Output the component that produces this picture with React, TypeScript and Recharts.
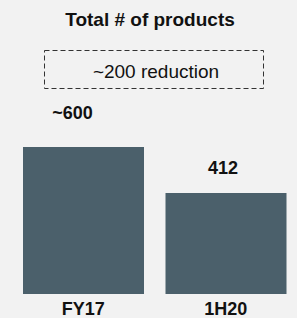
import React from 'react';
import { BarChart, Bar, XAxis, YAxis, LabelList } from 'recharts';

const categories = ['FY17', '1H20'];
const productCounts = [600, 412];
const countLabels = ['~600', '412'];
const chartTitle = 'Total # of products';
const reductionNote = '~200 reduction';

const data = categories.map((period, i) => ({
  period,
  count: productCounts[i],
  label: countLabels[i],
}));

const FONT = '"Liberation Sans", Arial, Helvetica, sans-serif';
const BAR_COLOR = '#4b606b';

// the first label sits a little higher and left of its bar in the original
const labelShift = [
  { dx: -11, dy: -28 },
  { dx: -3, dy: -19 },
];

const ValueLabel = (props: any) => {
  const { x, y, width, index } = props;
  const shift = labelShift[index] || { dx: 0, dy: -10 };
  return (
    <text
      x={Number(x) + Number(width) / 2 + shift.dx}
      y={Number(y) + shift.dy}
      textAnchor="middle"
      fontFamily={FONT}
      fontSize={18}
      fontWeight="bold"
      fill="#111"
    >
      {countLabels[index]}
    </text>
  );
};

const PeriodTick = (props: any) => {
  const { x, y, payload } = props;
  return (
    <text
      x={x}
      y={y}
      dy={13}
      textAnchor="middle"
      fontFamily={FONT}
      fontSize={18}
      fontWeight="bold"
      fill="#111"
    >
      {payload.value}
    </text>
  );
};

const App: React.FC = () => {
  return (
    <div
      style={{
        position: 'absolute',
        left: 0,
        top: 0,
        width: 297,
        height: 318,
        background: '#f2f2f2',
        overflow: 'hidden',
      }}
    >
      <BarChart
        width={297}
        height={318}
        data={data}
        margin={{ top: 147, right: 0, left: 12, bottom: 0 }}
        barCategoryGap={11}
      >
        <XAxis
          dataKey="period"
          axisLine={false}
          tickLine={false}
          height={24}
          interval={0}
          tick={<PeriodTick />}
        />
        <YAxis hide domain={[0, 600]} />
        <Bar dataKey="count" fill={BAR_COLOR} isAnimationActive={false}>
          <LabelList dataKey="label" content={<ValueLabel />} />
        </Bar>
      </BarChart>
      <svg
        width={297}
        height={318}
        style={{ position: 'absolute', left: 0, top: 0, pointerEvents: 'none' }}
      >
        <text
          x={150}
          y={26}
          textAnchor="middle"
          fontFamily={FONT}
          fontSize={19}
          fontWeight="bold"
          fill="#111"
        >
          {chartTitle}
        </text>
        <rect
          x={44.5}
          y={50.5}
          width={219}
          height={38}
          fill="none"
          stroke="#333"
          strokeWidth={1}
          strokeDasharray="5 3"
        />
        <text x={156} y={78} textAnchor="middle" fontFamily={FONT} fontSize={19} fill="#111">
          {reductionNote}
        </text>
      </svg>
    </div>
  );
};

export default App;
